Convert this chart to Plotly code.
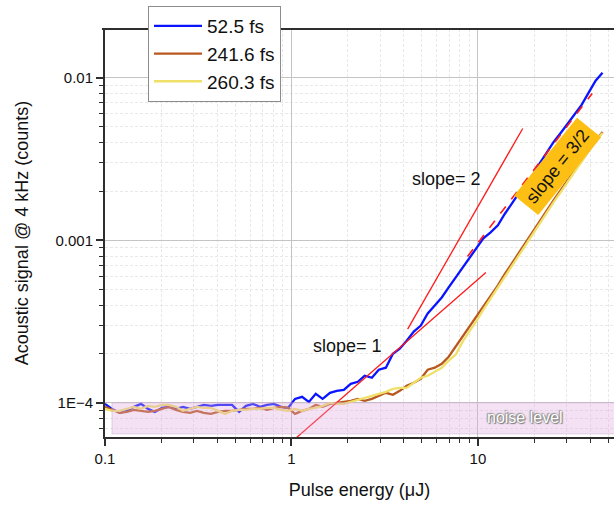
import plotly.graph_objects as go

# Pulse energy (µJ) shared by the three pulse-duration scans
energy_uJ = [
    0.100, 0.109, 0.120, 0.131, 0.143, 0.156, 0.170, 0.185, 0.202, 0.220,
    0.240, 0.262, 0.286, 0.311, 0.339, 0.370, 0.404, 0.440, 0.480, 0.524,
    0.570, 0.622, 0.678, 0.740, 0.806, 0.879, 0.959, 1.045, 1.14, 1.24,
    1.35, 1.47, 1.61, 1.75, 1.91, 2.08, 2.27, 2.47, 2.70, 2.94,
    3.21, 3.50, 3.81, 4.15, 4.53, 4.94, 5.38, 5.87, 6.40, 6.97,
    7.60, 8.28, 9.03, 9.84, 10.7, 11.7, 12.8, 13.9, 15.2, 16.6,
    18.1, 19.7, 21.5, 23.4, 25.5, 27.8, 30.3, 33.0, 36.0, 39.2,
    42.8, 46.6,
]

# Acoustic signal @ 4 kHz (counts)
signal_52_5fs = [
    9.86e-5, 9.18e-5, 8.68e-5, 8.93e-5, 9.45e-5, 9.86e-5, 9.18e-5, 8.80e-5, 9.31e-5, 9.45e-5,
    9.18e-5, 9.45e-5, 9.18e-5, 9.45e-5, 9.72e-5, 9.58e-5, 9.72e-5, 9.72e-5, 9.72e-5, 8.80e-5,
    9.58e-5, 9.86e-5, 9.45e-5, 9.72e-5, 9.86e-5, 9.45e-5, 9.31e-5, 1.058e-4, 1.089e-4, 1.014e-4,
    1.136e-4, 1.058e-4, 1.153e-4, 1.186e-4, 1.203e-4, 1.310e-4, 1.348e-4, 1.468e-4, 1.427e-4, 1.599e-4,
    1.645e-4, 2.006e-4, 2.154e-4, 2.414e-4, 2.744e-4, 2.988e-4, 3.544e-4, 3.971e-4, 4.448e-4, 5.128e-4,
    5.910e-4, 6.813e-4, 7.856e-4, 9.055e-4, 1.029e-3, 1.120e-3, 1.238e-3, 1.447e-3, 1.692e-3, 1.950e-3,
    2.217e-3, 2.520e-3, 2.988e-3, 3.493e-3, 4.026e-3, 4.576e-3, 5.201e-3, 5.910e-3, 6.813e-3, 8.080e-3,
    9.582e-3, 1.074e-2,
]

signal_241_6fs = [
    9.45e-5, 9.05e-5, 8.68e-5, 8.80e-5, 9.05e-5, 8.93e-5, 8.80e-5, 8.93e-5, 9.18e-5, 9.45e-5,
    9.05e-5, 8.80e-5, 8.68e-5, 8.93e-5, 8.68e-5, 8.55e-5, 8.80e-5, 8.93e-5, 8.93e-5, 9.05e-5,
    9.18e-5, 9.18e-5, 9.31e-5, 9.05e-5, 9.31e-5, 9.45e-5, 9.31e-5, 8.55e-5, 8.93e-5, 9.18e-5,
    9.72e-5, 9.45e-5, 9.86e-5, 1.000e-4, 1.014e-4, 1.029e-4, 1.058e-4, 1.029e-4, 1.058e-4, 1.105e-4,
    1.153e-4, 1.120e-4, 1.186e-4, 1.273e-4, 1.329e-4, 1.407e-4, 1.599e-4, 1.645e-4, 1.741e-4, 1.923e-4,
    2.217e-4, 2.555e-4, 2.988e-4, 3.396e-4, 3.915e-4, 4.576e-4, 5.276e-4, 6.168e-4, 7.212e-4, 8.434e-4,
    9.720e-4, 1.120e-3, 1.310e-3, 1.532e-3, 1.765e-3, 2.035e-3, 2.346e-3, 2.705e-3, 3.118e-3, 3.594e-3,
    4.084e-3, 4.642e-3,
]

signal_260_3fs = [
    9.18e-5, 8.93e-5, 8.93e-5, 9.18e-5, 9.45e-5, 9.18e-5, 9.58e-5, 9.45e-5, 9.72e-5, 9.72e-5,
    9.45e-5, 8.93e-5, 9.18e-5, 9.45e-5, 9.31e-5, 9.31e-5, 8.93e-5, 8.55e-5, 8.93e-5, 9.05e-5,
    9.05e-5, 9.18e-5, 9.18e-5, 9.31e-5, 9.31e-5, 9.05e-5, 8.93e-5, 9.18e-5, 8.93e-5, 9.18e-5,
    9.31e-5, 9.58e-5, 1.000e-4, 9.86e-5, 9.86e-5, 1.014e-4, 1.044e-4, 1.074e-4, 1.105e-4, 1.136e-4,
    1.169e-4, 1.220e-4, 1.237e-4, 1.237e-4, 1.329e-4, 1.427e-4, 1.468e-4, 1.554e-4, 1.645e-4, 1.817e-4,
    1.978e-4, 2.379e-4, 2.744e-4, 3.209e-4, 3.751e-4, 4.385e-4, 5.128e-4, 5.995e-4, 7.009e-4, 8.198e-4,
    9.449e-4, 1.089e-3, 1.273e-3, 1.489e-3, 1.716e-3, 1.978e-3, 2.280e-3, 2.666e-3, 3.074e-3, 3.544e-3,
    4.084e-3, 4.576e-3,
]

series_names = ["52.5 fs", "241.6 fs", "260.3 fs"]
series_values = [signal_52_5fs, signal_241_6fs, signal_260_3fs]
series_colors = ["#0a14ff", "#b9581e", "#efe06a"]

# Power-law guide lines: anchor energy, anchor signal, exponent, energy span
guide_slope1 = dict(x0=11.04, y0=6.34e-4, exponent=1.0, span=(0.87, 11.04))
guide_slope2 = dict(x0=11.74, y0=2.22e-3, exponent=2.0, span=(4.2, 17.4))
guide_slope32 = dict(x0=10.25, y0=1.0e-3, exponent=1.5, span=(8.8, 41.0))

# Noise floor band (counts) and its energy extent
noise_band_signal = (6.45e-5, 1.0e-4)
noise_band_energy = (0.109, 80.0)

x_tick_vals = [0.1, 1, 10]
x_tick_text = ["0.1", "1", "10"]
y_tick_vals = [1e-4, 1e-3, 1e-2]
y_tick_text = ["1E\u22124", "0.001", "0.01"]
x_minor_vals = [m * d for d in (0.1, 1, 10) for m in range(2, 10)]
y_minor_vals = [m * d for d in (1e-5, 1e-4, 1e-3, 1e-2) for m in range(2, 10)]

FONT = "Liberation Sans, Arial, sans-serif"
AXIS_COLOR = "#2e2e2e"

fig = go.Figure()

for name, vals, color in zip(series_names, series_values, series_colors):
    fig.add_trace(go.Scatter(
        x=energy_uJ, y=vals, mode="lines", name=name,
        line=dict(color=color, width=2.3),
    ))


def guide_points(g):
    xs = list(g["span"])
    ys = [g["y0"] * (x / g["x0"]) ** g["exponent"] for x in xs]
    return xs, ys


for g, dash, width in ((guide_slope1, "solid", 1.3),
                       (guide_slope2, "solid", 1.3),
                       (guide_slope32, "dash", 1.6)):
    gx, gy = guide_points(g)
    fig.add_trace(go.Scatter(
        x=gx, y=gy, mode="lines", showlegend=False, hoverinfo="skip",
        line=dict(color="#ff1a1a", width=width, dash=dash),
    ))

# translucent noise-level band drawn over the traces
fig.add_shape(
    type="rect", xref="x", yref="y", layer="above",
    x0=noise_band_energy[0], x1=noise_band_energy[1],
    y0=noise_band_signal[0], y1=noise_band_signal[1],
    fillcolor="rgba(222,170,222,0.34)",
    line=dict(color="rgba(205,175,205,0.55)", width=1),
)

# top frame line
fig.add_shape(type="line", xref="paper", yref="paper", x0=-0.006, x1=1, y0=1, y1=1,
              line=dict(color=AXIS_COLOR, width=2))

fig.add_annotation(x=1.2525, y=-4.093, xref="x", yref="y", text="noise level",
                   showarrow=False,
                   font=dict(family=FONT, size=16, color="#ffffff",
                             shadow="1px 1px 1px #777, -1px -1px 1px #999, 0px 0px 2px #666"))
fig.add_annotation(x=0.834, y=-2.623, xref="x", yref="y", text="slope= 2",
                   showarrow=False, font=dict(family=FONT, size=18, color="#111"))
fig.add_annotation(x=0.298, y=-3.648, xref="x", yref="y", text="slope= 1",
                   showarrow=False, font=dict(family=FONT, size=18, color="#111"))
fig.add_annotation(x=1.429, y=-2.543, xref="x", yref="y", text="slope = 3/2",
                   showarrow=False, textangle=-51, bgcolor="#fdbf14", borderpad=5,
                   font=dict(family=FONT, size=18, color="#111"))

fig.update_layout(
    width=614, height=510,
    margin=dict(l=105, r=0, t=29, b=73),
    paper_bgcolor="white", plot_bgcolor="white",
    font=dict(family=FONT, color="#111"),
    showlegend=True,
    legend=dict(x=0.0845, y=1.0564, xanchor="left", yanchor="top",
                bgcolor="white", bordercolor="#8c8c8c", borderwidth=1,
                font=dict(family=FONT, size=19, color="#111"),
                itemwidth=48, tracegroupgap=0),
    xaxis=dict(
        type="log", range=[-1, 1.73],
        tickmode="array", tickvals=x_tick_vals, ticktext=x_tick_text,
        tickfont=dict(family=FONT, size=15, color="#111"),
        ticks="outside", ticklen=7, tickwidth=1.5, tickcolor=AXIS_COLOR,
        showline=True, linecolor=AXIS_COLOR, linewidth=2,
        showgrid=True, gridcolor="#c4c4c4", gridwidth=1,
        zeroline=False,
        minor=dict(tickmode="array", tickvals=x_minor_vals, ticks="outside",
                   ticklen=4, tickwidth=1.2, tickcolor=AXIS_COLOR,
                   showgrid=True, gridcolor="#e8e8e8", griddash="3px,2px", gridwidth=1),
        title=dict(text="Pulse energy (\u03bcJ)", standoff=17,
                   font=dict(family=FONT, size=18, color="#111")),
    ),
    yaxis=dict(
        type="log", range=[-4.21, -1.70],
        tickmode="array", tickvals=y_tick_vals, ticktext=y_tick_text,
        tickfont=dict(family=FONT, size=15, color="#111"),
        ticks="outside", ticklen=7, tickwidth=1.5, tickcolor=AXIS_COLOR,
        showline=True, linecolor=AXIS_COLOR, linewidth=2,
        showgrid=True, gridcolor="#c4c4c4", gridwidth=1,
        zeroline=False,
        minor=dict(tickmode="array", tickvals=y_minor_vals, ticks="outside",
                   ticklen=4, tickwidth=1.2, tickcolor=AXIS_COLOR,
                   showgrid=True, gridcolor="#e8e8e8", griddash="3px,2px", gridwidth=1),
        title=dict(text="Acoustic signal @ 4 kHz (counts)", standoff=22,
                   font=dict(family=FONT, size=18, color="#111")),
    ),
)

fig.write_html("out.html")
